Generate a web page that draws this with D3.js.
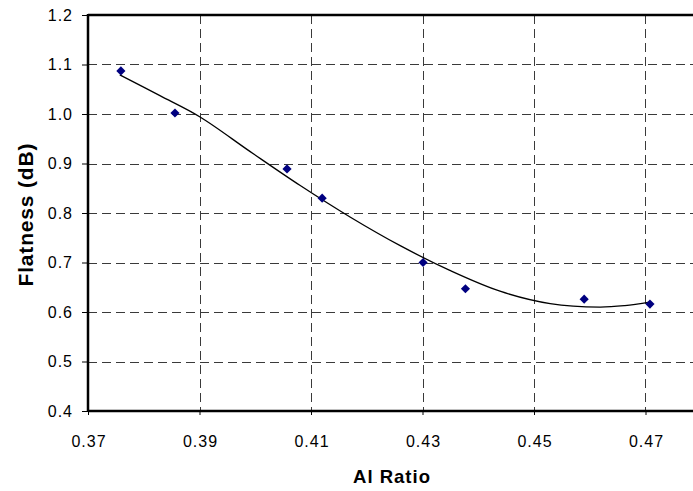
<!DOCTYPE html>
<html><head><meta charset="utf-8">
<script src="https://cdn.jsdelivr.net/npm/d3@7"></script>
<style>body{margin:0;background:#fff}svg{display:block}</style>
</head><body>
<script>
const xTicks = [0.37, 0.39, 0.41, 0.43, 0.45, 0.47];
const yTicks = [0.4, 0.5, 0.6, 0.7, 0.8, 0.9, 1.0, 1.1, 1.2];
const alRatio = [0.3759, 0.3856, 0.4057, 0.4120, 0.4301, 0.4377, 0.4590, 0.4708];
const flatness = [1.087, 1.002, 0.889, 0.830, 0.700, 0.647, 0.626, 0.616];
const trendX = [0.3757, 0.3829, 0.3901, 0.3991, 0.4080, 0.4170, 0.4260, 0.4349, 0.4439, 0.4529, 0.4618, 0.4663, 0.4708];
const trendY = [1.079, 1.037, 0.994, 0.924, 0.856, 0.792, 0.734, 0.684, 0.642, 0.617, 0.610, 0.613, 0.620];

const W = 693, H = 491;
const m = {left: 88, top: 15, bottom: 411};
const svg = d3.select("body").append("svg").attr("width", W).attr("height", H);
const x = d3.scaleLinear().domain([0.37, 0.48]).range([m.left, m.left + 0.11 * 5575]);
const y = d3.scaleLinear().domain([0.4, 1.2]).range([m.bottom, m.top]);
const font = "'Liberation Sans', Arial, sans-serif";

// gridlines
const grid = svg.append("g").attr("stroke", "#3a3a3a").attr("stroke-width", 1).attr("stroke-dasharray", "9,5").attr("shape-rendering", "crispEdges");
grid.selectAll("line.h").data(yTicks.filter(v => v > 0.41 && v < 1.19)).join("line").attr("class", "h")
  .attr("x1", m.left).attr("x2", W).attr("y1", d => Math.round(y(d)) + 0.5).attr("y2", d => Math.round(y(d)) + 0.5);
grid.selectAll("line.v").data(xTicks.slice(1)).join("line").attr("class", "v")
  .attr("y1", m.top).attr("y2", m.bottom).attr("x1", d => Math.round(x(d)) + 0.5).attr("x2", d => Math.round(x(d)) + 0.5);

// axes
const yAxis = d3.axisLeft(y).tickValues(yTicks).tickFormat(d3.format(".1f")).tickSize(6);
const gy = svg.append("g").attr("transform", `translate(${m.left},0)`).call(yAxis);
const xAxis = d3.axisBottom(x).tickValues(xTicks).tickFormat(d3.format(".2f")).tickSize(4);
const gx = svg.append("g").attr("transform", `translate(0,${m.bottom})`).call(xAxis);
[gx, gy].forEach(g => {
  g.select(".domain").remove();
  g.selectAll("text").attr("font-family", font).attr("font-size", 16).attr("letter-spacing", 1).attr("fill", "#000");
  g.selectAll("line").attr("stroke", "#000");
});
gy.selectAll("text").attr("x", -15).attr("dy", "0.33em");
gx.selectAll("text").attr("y", 36).attr("dy", 0).attr("dx", 0.5);

// frame
svg.append("line").attr("x1", m.left).attr("x2", W).attr("y1", m.top).attr("y2", m.top).attr("stroke", "#000").attr("stroke-width", 2.5);
svg.append("line").attr("x1", m.left).attr("x2", W).attr("y1", m.bottom).attr("y2", m.bottom).attr("stroke", "#000").attr("stroke-width", 2.5);
svg.append("line").attr("x1", m.left).attr("x2", m.left).attr("y1", m.top - 1).attr("y2", m.bottom + 1).attr("stroke", "#000").attr("stroke-width", 2.5);

// trend line
const trend = trendX.map((v, i) => [v, trendY[i]]);
svg.append("path").datum(trend)
  .attr("d", d3.line().x(d => x(d[0])).y(d => y(d[1])).curve(d3.curveCatmullRom.alpha(0.5)))
  .attr("fill", "none").attr("stroke", "#000").attr("stroke-width", 1.3);

// points
svg.append("g").selectAll("path").data(alRatio.map((v, i) => [v, flatness[i]])).join("path")
  .attr("d", d3.symbol().type(d3.symbolSquare).size(42))
  .attr("transform", d => `translate(${x(d[0])},${y(d[1])}) rotate(45)`)
  .attr("fill", "#000080");

// titles
svg.append("text").attr("x", 391.5).attr("y", 483).attr("text-anchor", "middle")
  .attr("font-family", font).attr("font-size", 18.5).attr("font-weight", "bold")
  .attr("textLength", 77).attr("lengthAdjust", "spacing").text("Al Ratio");
svg.append("text").attr("transform", "translate(33,215) rotate(-90)").attr("text-anchor", "middle")
  .attr("font-family", font).attr("font-size", 21).attr("font-weight", "bold")
  .attr("textLength", 143).attr("lengthAdjust", "spacing").text("Flatness (dB)");
</script>
</body></html>
